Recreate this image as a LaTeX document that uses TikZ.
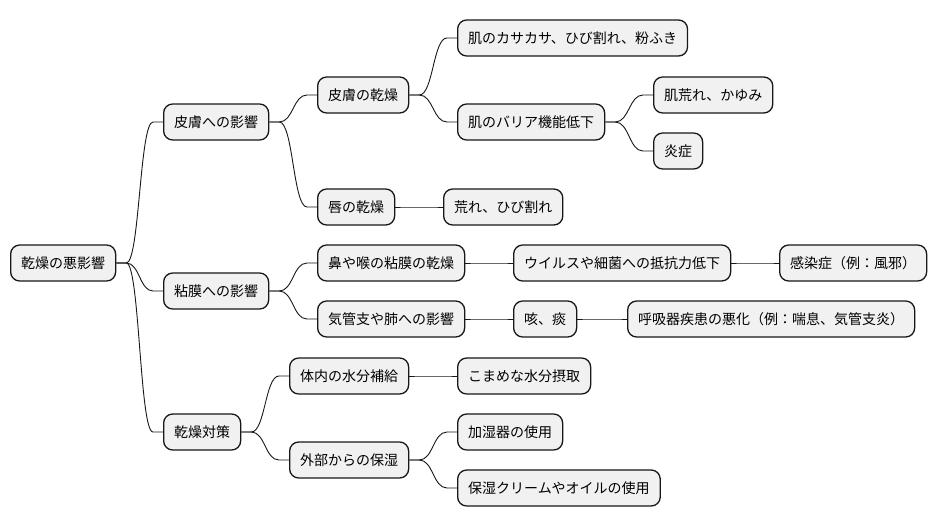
\documentclass[tikz,border=0pt]{standalone}
\usepackage{fontspec}
\setmainfont{Noto Sans CJK JP}
\usetikzlibrary{calc}

\definecolor{boxfill}{HTML}{F1F1F1}
\definecolor{ink}{HTML}{181818}

\tikzset{
  topic/.style={draw=ink, fill=boxfill, line width=1.3pt, rounded corners=9pt,
    anchor=west, minimum height=36pt, inner xsep=10.5pt, inner ysep=0pt,
    font=\fontsize{14}{16}\selectfont, text=black},
  edge/.style={draw=ink, line width=0.9pt}
}

% horizontal stub, S-curve, horizontal stub
\newcommand\branchto[2]{%
  \path (#1.east) ++(10,0) coordinate (s) (#2.west) ++(-10,0) coordinate (e);
  \path ($(s)!.5!(e)$) coordinate (m);
  \draw[edge] (#1.east) -- (s) .. controls (m |- s) and (m |- e) .. (e) -- (#2.west);}

\begin{document}
\begin{tikzpicture}[x=1pt, y=-1pt]
  \path[use as bounding box, fill=white] (0,0) rectangle (936,527);

  \node[topic] (root) at (10,263) {乾燥の悪影響};

  \node[topic] (skin)   at (163,122) {皮膚への影響};
  \node[topic] (mucosa) at (163,291) {粘膜への影響};
  \node[topic] (care)   at (163,432) {乾燥対策};

  \node[topic] (skindry) at (317,95)  {皮膚の乾燥};
  \node[topic] (lipdry)  at (317,207) {唇の乾燥};
  \node[topic] (flaky)   at (457,38)  {肌のカサカサ、ひび割れ、粉ふき};
  \node[topic] (barrier) at (457,122) {肌のバリア機能低下};
  \node[topic] (itch)    at (653,95)  {肌荒れ、かゆみ};
  \node[topic] (inflam)  at (653,151) {炎症};
  \node[topic] (chapped) at (443,207) {荒れ、ひび割れ};

  \node[topic] (nose)    at (317,263) {鼻や喉の粘膜の乾燥};
  \node[topic] (resist)  at (513,263) {ウイルスや細菌への抵抗力低下};
  \node[topic] (infect)  at (779,263) {感染症（例：風邪）};
  \node[topic] (lungs)   at (317,319) {気管支や肺への影響};
  \node[topic] (cough)   at (513,319) {咳、痰};
  \node[topic] (resp)    at (627,319) {呼吸器疾患の悪化（例：喘息、気管支炎）};

  \node[topic] (water)   at (289,376) {体内の水分補給};
  \node[topic] (drink)   at (457,376) {こまめな水分摂取};
  \node[topic] (outer)   at (289,460) {外部からの保湿};
  \node[topic] (humid)   at (457,432) {加湿器の使用};
  \node[topic] (cream)   at (457,488) {保湿クリームやオイルの使用};

  \branchto{root}{skin}
  \branchto{root}{mucosa}
  \branchto{root}{care}

  \branchto{skin}{skindry}
  \branchto{skin}{lipdry}
  \branchto{skindry}{flaky}
  \branchto{skindry}{barrier}
  \branchto{barrier}{itch}
  \branchto{barrier}{inflam}
  \branchto{lipdry}{chapped}

  \branchto{mucosa}{nose}
  \branchto{mucosa}{lungs}
  \branchto{nose}{resist}
  \branchto{resist}{infect}
  \branchto{lungs}{cough}
  \branchto{cough}{resp}

  \branchto{care}{water}
  \branchto{care}{outer}
  \branchto{water}{drink}
  \branchto{outer}{humid}
  \branchto{outer}{cream}
\end{tikzpicture}
\end{document}
